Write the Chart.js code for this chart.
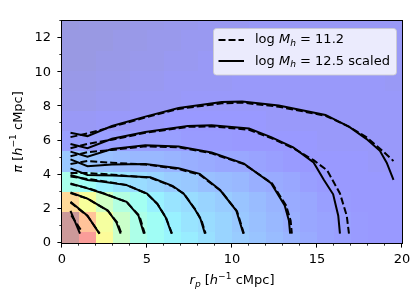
<!DOCTYPE html>
<html><head><meta charset="utf-8">
<script src="https://cdn.jsdelivr.net/npm/chart.js@4"></script>
<style>html,body{margin:0;padding:0;background:#fff}</style>
</head><body>
<canvas id="c" width="415" height="297" style="display:block"></canvas>
<script>
// ---- heatmap bins ----
const rpEdges = [0,1,2,3,4,5,6,7,8,9,10,11,12,13,14,15,16,17,18,19,20];
const piEdges = [0,0.64,1.82,3.0,4.18,5.36,6.55,7.73,8.91,10.09,11.27,12.45,13.0];
// jet-scale values per pi row (bottom to top), one per rp column
const heatRow0  = [1.0,0.9,0.65,0.5,0.41,0.37,0.35,0.33,0.3,0.27,0.25,0.23,0.21,0.19,0.17,0.15,0.14,0.13,0.12,0.11];
const heatRow1  = [1.0,0.8,0.63,0.5,0.41,0.37,0.34,0.31,0.29,0.27,0.24,0.22,0.2,0.18,0.16,0.15,0.14,0.13,0.12,0.11];
const heatRow2  = [0.74,0.64,0.52,0.43,0.38,0.34,0.31,0.29,0.27,0.25,0.23,0.21,0.19,0.17,0.16,0.14,0.13,0.12,0.12,0.11];
const heatRow3  = [0.4,0.37,0.34,0.31,0.29,0.27,0.25,0.24,0.22,0.21,0.2,0.18,0.17,0.16,0.14,0.13,0.12,0.12,0.11,0.11];
const heatRow4  = [0.24,0.23,0.22,0.21,0.2,0.2,0.19,0.18,0.17,0.16,0.16,0.15,0.14,0.13,0.12,0.12,0.11,0.11,0.1,0.1];
const heatRow5  = [0.14,0.14,0.14,0.14,0.14,0.14,0.14,0.13,0.13,0.13,0.12,0.12,0.12,0.11,0.11,0.1,0.1,0.1,0.1,0.1];
const heatRow6  = [0.09,0.09,0.1,0.1,0.1,0.1,0.11,0.11,0.11,0.11,0.11,0.11,0.1,0.1,0.1,0.1,0.1,0.1,0.1,0.1];
const heatRow7  = [0.07,0.07,0.08,0.08,0.09,0.09,0.09,0.1,0.1,0.1,0.1,0.1,0.1,0.1,0.1,0.1,0.1,0.1,0.1,0.1];
const heatRow8  = [0.06,0.06,0.07,0.07,0.08,0.08,0.09,0.09,0.09,0.09,0.1,0.1,0.1,0.1,0.1,0.1,0.1,0.1,0.1,0.09];
const heatRow9  = [0.05,0.05,0.06,0.06,0.07,0.07,0.08,0.08,0.09,0.09,0.09,0.09,0.09,0.09,0.09,0.09,0.09,0.09,0.09,0.09];
const heatRow10 = [0.05,0.05,0.05,0.06,0.06,0.07,0.07,0.08,0.08,0.08,0.09,0.09,0.09,0.09,0.09,0.09,0.09,0.09,0.09,0.09];
const heatRow11 = [0.04,0.05,0.05,0.05,0.06,0.06,0.07,0.07,0.08,0.08,0.08,0.09,0.09,0.09,0.09,0.09,0.09,0.09,0.09,0.09];
const heatRows = [heatRow0,heatRow1,heatRow2,heatRow3,heatRow4,heatRow5,heatRow6,heatRow7,heatRow8,heatRow9,heatRow10,heatRow11];

// ---- contours [rp, pi] : solid = log Mh 12.5 scaled, dashed = log Mh 11.2 ----
const s1 = [[0.5,6.45],[1.5,6.25],[2.94,6.85],[4.9,7.4],[6.86,7.9],[9.4,8.25],[10.6,8.28],[12.75,8.05],[15.5,7.5],[16.9,6.8],[17.9,6.1],[18.7,5.4],[19.1,4.7],[19.5,3.7]];
const d1 = [[0.5,6.2],[1.5,6.42],[2.94,6.8],[4.9,7.35],[6.86,7.85],[9.4,8.18],[10.6,8.22],[12.75,7.98],[15.5,7.45],[16.9,6.8],[17.9,6.2],[18.9,5.35],[19.5,4.8]];
const s2 = [[0.5,5.8],[1.5,5.55],[2.94,6.1],[4.9,6.5],[7.4,6.85],[8.8,6.9],[11,6.7],[12.3,6.2],[13.6,5.6],[14.8,4.72],[15.4,3.7],[15.95,2.85],[16.25,1.6],[16.35,0.55]];
const d2 = [[0.5,5.55],[1.5,5.8],[2.94,6.05],[4.9,6.45],[7.4,6.8],[8.8,6.83],[11,6.63],[12.3,6.15],[13.6,5.55],[14.8,4.85],[15.6,4.25],[16.35,2.9],[16.75,1.6],[16.88,0.55]];
const s3 = [[0.5,5.35],[1.5,5.06],[2.94,5.5],[4.9,5.72],[6.86,5.65],[8.8,5.3],[10.7,4.65],[12.3,3.5],[13.1,2.2],[13.35,1.3],[13.42,0.55]];
const d3 = [[0.5,5.08],[1.5,5.32],[2.94,5.45],[4.9,5.66],[6.86,5.6],[8.8,5.25],[10.7,4.62],[12.35,3.5],[13.18,2.2],[13.45,1.3],[13.52,0.55]];
const s4 = [[0.5,4.9],[1.5,4.5],[2.94,4.6],[4.9,4.62],[6.86,4.38],[8.1,4.05],[9.3,3.1],[10.25,1.9],[10.67,0.55]];
const d4 = [[0.5,4.62],[1.5,4.8],[2.94,4.7],[4.9,4.6],[6.86,4.33],[8.1,4.0],[9.35,3.05],[10.3,1.85],[10.7,0.55]];
const s5 = [[0.5,4.37],[1.5,3.98],[3.0,3.95],[5.2,3.85],[6.5,3.35],[7.15,2.9],[7.8,2.0],[8.15,1.4],[8.41,0.55]];
const d5 = [[0.5,4.1],[1.5,4.1],[3.0,4.0],[5.2,3.82],[6.5,3.32],[7.2,2.85],[7.85,1.95],[8.2,1.35],[8.45,0.55]];
const s6 = [[0.5,3.98],[1.5,3.69],[2.43,3.59],[3.8,3.39],[5.0,2.9],[5.6,2.3],[6.1,1.5],[6.45,0.55]];
const d6 = [[0.5,3.9],[1.5,3.75],[2.43,3.62],[3.8,3.4],[5.0,2.88],[5.62,2.28],[6.12,1.48],[6.47,0.55]];
const s7 = [[0.5,3.49],[1.5,3.2],[2.43,2.9],[3.8,2.41],[4.5,1.6],[4.82,0.55]];
const d7 = [[0.5,3.45],[1.5,3.22],[2.43,2.92],[3.8,2.4],[4.55,1.6],[4.87,0.55]];
const s8 = [[0.5,2.96],[1.5,2.6],[2.7,1.9],[3.2,1.2],[3.45,0.55]];
const d8 = [[0.5,2.92],[1.5,2.6],[2.7,1.88],[3.25,1.2],[3.5,0.55]];
const s9 = [[0.5,2.41],[1.5,1.6],[2.2,0.55]];
const d9 = [[0.5,2.38],[1.5,1.58],[2.22,0.55]];
const s10 = [[0.5,1.88],[1.06,0.55]];
const d10 = [[0.55,1.62],[1.15,0.7]];
const solidSets = [s1,s2,s3,s4,s5,s6,s7,s8,s9,s10];
const dashedSets = [d1,d2,d3,d4,d5,d6,d7,d8,d9,d10];

// legend labels and axis titles (mathtext-like segments)
const labelDashed = [{t:'log '},{t:'M',i:1},{t:'h',i:1,sub:1},{t:' = 11.2'}];
const labelSolid  = [{t:'log '},{t:'M',i:1},{t:'h',i:1,sub:1},{t:' = 12.5 scaled'}];
const xTitle = [{t:'r',i:1},{t:'p',i:1,sub:1},{t:' ['},{t:'h',i:1},{t:'\u22121',sup:1},{t:' cMpc]'}];
const yTitle = [{t:'\u03c0',i:1},{t:' ['},{t:'h',i:1},{t:'\u22121',sup:1},{t:' cMpc]'}];

const FONT = "'DejaVu Sans'";
const FS = 13;
const LW = 2;
const DASH = [7, 3];

function interp(pts, v){
  for (let k=0;k<pts.length-1;k++){
    const [a,va]=pts[k],[b,vb]=pts[k+1];
    if (v>=a && v<=b) return va+(vb-va)*(v-a)/(b-a);
  }
  return pts[pts.length-1][1];
}
function jet(v){
  const r = interp([[0,0],[0.35,0],[0.66,1],[0.89,1],[1,0.5]], v);
  const g = interp([[0,0],[0.125,0],[0.375,1],[0.64,1],[0.91,0],[1,0]], v);
  const b = interp([[0,0.5],[0.11,1],[0.34,1],[0.65,0],[1,0]], v);
  const a = 0.4;
  const f = c => Math.round(255*(c*a + (1-a)));
  return `rgb(${f(r)},${f(g)},${f(b)})`;
}
function segFont(s, size){ return `${s.i?'italic ':''}${(s.sub||s.sup)?size*0.7:size}px ${FONT}`; }
function richWidth(ctx, segs, size){ let w=0; for (const s of segs){ ctx.font=segFont(s,size); w+=ctx.measureText(s.t).width; } return w; }
function drawRich(ctx, segs, x, y, size, align){
  const w = richWidth(ctx, segs, size);
  let cx = align==='center' ? x - w/2 : x;
  ctx.textBaseline='alphabetic'; ctx.textAlign='left';
  for (const s of segs){
    ctx.font=segFont(s,size);
    const dy = s.sub ? size*0.2 : (s.sup ? -size*0.42 : 0);
    ctx.fillText(s.t, cx, y+dy);
    cx += ctx.measureText(s.t).width;
  }
}
const heatPlugin = {
  id:'heat',
  beforeDatasetsDraw(chart){
    const {ctx, chartArea:a, scales:{x,y}} = chart;
    ctx.save();
    ctx.beginPath(); ctx.rect(a.left,a.top,a.right-a.left,a.bottom-a.top); ctx.clip();
    for (let j=0;j<heatRows.length;j++){
      const y0 = Math.round(y.getPixelForValue(piEdges[j]));
      const y1 = Math.round(y.getPixelForValue(piEdges[j+1]));
      for (let i=0;i<heatRows[j].length;i++){
        const x0 = Math.round(x.getPixelForValue(rpEdges[i]));
        const x1 = Math.round(x.getPixelForValue(rpEdges[i+1]));
        ctx.fillStyle = jet(heatRows[j][i]);
        ctx.fillRect(x0, y1, x1-x0, y0-y1);
      }
    }
    ctx.restore();
  }
};
const decorPlugin = {
  id:'decor',
  afterDatasetsDraw(chart){
    const {ctx, chartArea:a, scales:{x,y}} = chart;
    ctx.save();
    ctx.strokeStyle='#000'; ctx.lineWidth=1;
    ctx.strokeRect(Math.round(a.left)-0.5, Math.round(a.top)-0.5, Math.round(a.right-a.left)+1, Math.round(a.bottom-a.top)+1);
    for (let v=0; v<=20; v++){
      const px = Math.round(x.getPixelForValue(v))-0.5;
      const major = v%5===0;
      ctx.lineWidth = major?1:0.8;
      ctx.beginPath(); ctx.moveTo(px, a.bottom); ctx.lineTo(px, a.bottom + (major?4.6:2.7)); ctx.stroke();
    }
    for (let v=0; v<=13; v++){
      const py = Math.round(y.getPixelForValue(v))-0.5;
      const major = v%2===0;
      ctx.lineWidth = major?1:0.8;
      ctx.beginPath(); ctx.moveTo(a.left, py); ctx.lineTo(a.left - (major?4.6:2.7), py); ctx.stroke();
    }
    ctx.fillStyle='#000';
    drawRich(ctx, xTitle, (a.left+a.right)/2, 284, FS, 'center');
    ctx.save();
    ctx.translate(21.5, (a.top+a.bottom)/2);
    ctx.rotate(-Math.PI/2);
    drawRich(ctx, yTitle, 0, 0, FS, 'center');
    ctx.restore();
    const lx=213.5, ly=28.5, lw=183, lh=46.5, r=3;
    ctx.beginPath();
    ctx.moveTo(lx+r,ly); ctx.lineTo(lx+lw-r,ly); ctx.quadraticCurveTo(lx+lw,ly,lx+lw,ly+r);
    ctx.lineTo(lx+lw,ly+lh-r); ctx.quadraticCurveTo(lx+lw,ly+lh,lx+lw-r,ly+lh);
    ctx.lineTo(lx+r,ly+lh); ctx.quadraticCurveTo(lx,ly+lh,lx,ly+lh-r);
    ctx.lineTo(lx,ly+r); ctx.quadraticCurveTo(lx,ly,lx+r,ly); ctx.closePath();
    ctx.fillStyle='rgba(255,255,255,0.8)'; ctx.fill();
    ctx.strokeStyle='rgba(204,204,204,0.8)'; ctx.lineWidth=1; ctx.stroke();
    ctx.strokeStyle='#000'; ctx.lineWidth=LW;
    ctx.setLineDash(DASH);
    ctx.beginPath(); ctx.moveTo(218.5,40); ctx.lineTo(244,40); ctx.stroke();
    ctx.setLineDash([]);
    ctx.beginPath(); ctx.moveTo(218.5,61); ctx.lineTo(244,61); ctx.stroke();
    ctx.fillStyle='#000';
    drawRich(ctx, labelDashed, 255, 43, FS, 'left');
    drawRich(ctx, labelSolid, 255, 64.5, FS, 'left');
    ctx.restore();
  }
};
const datasets = [];
dashedSets.forEach(d=>datasets.push({label:'log Mh = 11.2', data:d.map(p=>({x:p[0],y:p[1]})), showLine:true, borderColor:'#000', borderWidth:LW, borderDash:DASH, pointRadius:0, tension:0, fill:false}));
solidSets.forEach(d=>datasets.push({label:'log Mh = 12.5 scaled', data:d.map(p=>({x:p[0],y:p[1]})), showLine:true, borderColor:'#000', borderWidth:LW, pointRadius:0, tension:0, fill:false}));
const tickFont = {family:'DejaVu Sans', size:FS};
new Chart(document.getElementById('c'), {
  type:'scatter',
  data:{datasets},
  options:{
    responsive:false, animation:false, events:[],
    layout:{padding:{left:0, top:21, right:13, bottom:0}},
    plugins:{legend:{display:false}, tooltip:{enabled:false}},
    scales:{
      x:{type:'linear', min:0, max:20,
         afterFit:s=>{s.height=54; s.paddingLeft=0; s.paddingRight=0;},
         grid:{display:false, drawTicks:false}, border:{display:false},
         ticks:{stepSize:5, includeBounds:false, padding:9, color:'#000', font:tickFont, maxRotation:0, autoSkip:false}},
      y:{type:'linear', min:0, max:13,
         afterFit:s=>{s.width=62; s.paddingTop=0; s.paddingBottom=0;},
         grid:{display:false, drawTicks:false}, border:{display:false},
         ticks:{stepSize:2, includeBounds:false, padding:11, color:'#000', font:tickFont, autoSkip:false,
                callback:v=> (v%2===0 ? String(v) : '')}}
    }
  },
  plugins:[heatPlugin, decorPlugin]
});
</script>
</body></html>
